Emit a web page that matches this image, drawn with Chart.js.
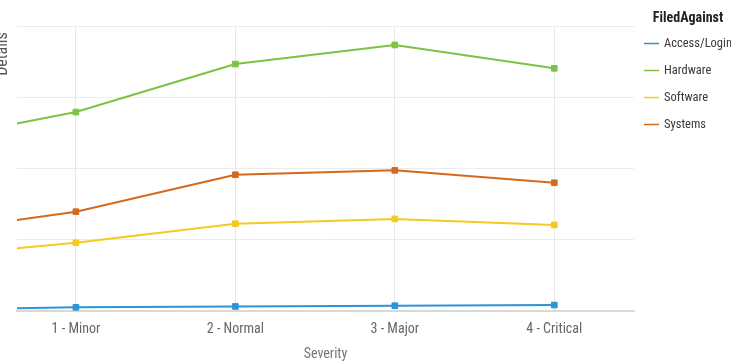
<!DOCTYPE html>
<html>
<head>
<meta charset="utf-8">
<script src="https://cdn.jsdelivr.net/npm/chart.js@4/dist/chart.umd.min.js"></script>
<style>
  html, body { margin: 0; padding: 0; background: #fff; overflow: hidden; }
  #wrap { position: relative; width: 731px; height: 363px; }
</style>
</head>
<body>
<div id="wrap"><canvas id="chart"></canvas></div>
<script>
// Severity categories (the view is scrolled, so the first one sits left of the plot)
const categories = ['0 - Unclassified', '1 - Minor', '2 - Normal', '3 - Major', '4 - Critical'];

// Work item counts per "Filed Against" category
const accessLogin = [0.7, 2.6, 3.2, 3.7, 4.2];
const hardware    = [118, 139.6, 173.3, 186.7, 170.3];
const software    = [37.3, 47.9, 61.3, 64.6, 60.4];
const systems     = [54, 69.7, 95.6, 98.7, 90.0];

const seriesNames  = ['Access/Login', 'Hardware', 'Software', 'Systems'];
const seriesValues = [accessLogin, hardware, software, systems];
const seriesColors = ['#2f93d6', '#7dc242', '#f5c922', '#d4691e'];

const FONT = "'Liberation Sans Narrow', 'Arial Narrow', 'Roboto Condensed', 'Liberation Sans', sans-serif";

const datasets = seriesNames.map((name, i) => ({
  label: name,
  data: seriesValues[i].map((v, j) => ({ x: j, y: v })),
  borderColor: seriesColors[i],
  backgroundColor: seriesColors[i],
  borderWidth: 2,
  pointStyle: 'rect',
  pointRadius: 4,
  pointBorderWidth: 1,
  pointHoverRadius: 4,
  tension: 0,
  clip: 0
}));

// Legend drawn at the right with its title, and the vertical axis caption
const sideText = {
  id: 'sideText',
  afterDraw(chart) {
    const ctx = chart.ctx;
    ctx.save();
    ctx.fillStyle = '#222';
    ctx.font = 'bold 14px ' + FONT;
    ctx.textAlign = 'center';
    ctx.textBaseline = 'middle';
    ctx.fillText('FiledAgainst', 688, 18);

    ctx.font = '12.5px ' + FONT;
    ctx.textAlign = 'left';
    chart.data.datasets.forEach((ds, i) => {
      const y = 43 + i * 27;
      ctx.strokeStyle = ds.borderColor;
      ctx.lineWidth = 1.5;
      ctx.beginPath();
      ctx.moveTo(644, y + 0.5);
      ctx.lineTo(659, y + 0.5);
      ctx.stroke();
      ctx.fillStyle = '#3a3a3a';
      ctx.fillText(ds.label, 664, y + 1);
    });

    ctx.translate(7, 54);
    ctx.rotate(-Math.PI / 2);
    ctx.font = '16px ' + FONT;
    ctx.fillStyle = '#555';
    ctx.textAlign = 'center';
    ctx.textBaseline = 'alphabetic';
    ctx.fillText('Details', 0, 0);
    ctx.restore();
  }
};

new Chart(document.getElementById('chart'), {
  type: 'line',
  data: { datasets },
  options: {
    responsive: true,
    maintainAspectRatio: false,
    animation: false,
    layout: { padding: { left: 17, right: 97, top: 26, bottom: 0 } },
    plugins: { legend: { display: false }, tooltip: { enabled: false } },
    scales: {
      x: {
        type: 'linear',
        min: 0.6305,
        max: 4.5,
        afterBuildTicks: s => { s.ticks = [1, 2, 3, 4].map(v => ({ value: v })); },
        afterFit: s => { s.height = 52; },
        ticks: {
          callback: v => categories[v] || '',
          color: '#666',
          font: { family: FONT, size: 14 },
          padding: 10,
          maxRotation: 0
        },
        grid: { color: '#e8e8e8', lineWidth: 1, drawTicks: false },
        border: { display: true, color: '#d9d9d9', width: 2 },
        title: {
          display: true,
          text: 'Severity',
          color: '#777',
          font: { family: FONT, size: 14 },
          padding: { top: 8, bottom: 0 }
        }
      },
      y: {
        min: 0,
        max: 200,
        afterFit: s => { s.width = 0; },
        ticks: { display: false, stepSize: 50 },
        grid: { color: '#ececec', lineWidth: 1, drawTicks: false },
        border: { display: false }
      }
    }
  },
  plugins: [sideText]
});
</script>
</body>
</html>
